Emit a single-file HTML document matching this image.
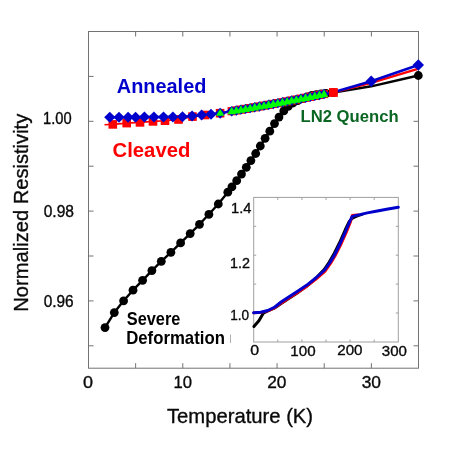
<!DOCTYPE html><html><head><meta charset="utf-8"><style>html,body{margin:0;padding:0;background:#fff}svg{display:block;will-change:transform;opacity:0.999}text{font-family:"Liberation Sans",sans-serif}</style></head><body>
<svg width="450" height="450" viewBox="0 0 450 450">
<rect width="450" height="450" fill="#fff"/>
<g stroke="#727272" stroke-width="1" fill="none">
<rect x="88.5" y="31.5" width="330.0" height="336.7"/>
<path d="M135.64 31.5v5M135.64 368.2v-5"/>
<path d="M182.79 31.5v5M182.79 368.2v-5"/>
<path d="M229.93 31.5v5M229.93 368.2v-5"/>
<path d="M277.07 31.5v5M277.07 368.2v-5"/>
<path d="M324.21 31.5v5M324.21 368.2v-5"/>
<path d="M371.36 31.5v5M371.36 368.2v-5"/>
<path d="M88.5 76.4h5M418.5 76.4h-5"/>
<path d="M88.5 121.3h5M418.5 121.3h-5"/>
<path d="M88.5 166.2h5M418.5 166.2h-5"/>
<path d="M88.5 211.1h5M418.5 211.1h-5"/>
<path d="M88.5 256h5M418.5 256h-5"/>
<path d="M88.5 300.9h5M418.5 300.9h-5"/>
<path d="M88.5 345.8h5M418.5 345.8h-5"/>
</g>
<polyline fill="none" stroke="#000" stroke-width="2.4" stroke-linejoin="round" points="105,327.6 114.3,312.6 123.6,300.8 133,290.2 142.6,280.3 151.9,270.6 161.3,261.3 170.9,252.3 180.6,242.9 190.2,233.6 199.5,224.3 208.9,214.3 218.3,204 227.8,192.2 231.9,186.9 236.7,180.7 241.5,174.1 246.3,167.3 250.9,160.6 255.7,153.5 260.3,146 265.1,138.3 269.8,131.2 274.5,123.6 279,117.1 283.8,110.9 288.2,106.4 293,103 297.7,100.6 302.4,98.6 307.1,96.8 311.8,95.4 316.5,94.6 321.2,94 326,93.4 333.4,92.6 371.2,86.3 418.3,75.5"/>
<circle cx="105" cy="327.6" r="4.4" fill="#000"/>
<circle cx="114.3" cy="312.6" r="4.4" fill="#000"/>
<circle cx="123.6" cy="300.8" r="4.4" fill="#000"/>
<circle cx="133" cy="290.2" r="4.4" fill="#000"/>
<circle cx="142.6" cy="280.3" r="4.4" fill="#000"/>
<circle cx="151.9" cy="270.6" r="4.4" fill="#000"/>
<circle cx="161.3" cy="261.3" r="4.4" fill="#000"/>
<circle cx="170.9" cy="252.3" r="4.4" fill="#000"/>
<circle cx="180.6" cy="242.9" r="4.4" fill="#000"/>
<circle cx="190.2" cy="233.6" r="4.4" fill="#000"/>
<circle cx="199.5" cy="224.3" r="4.4" fill="#000"/>
<circle cx="208.9" cy="214.3" r="4.4" fill="#000"/>
<circle cx="218.3" cy="204" r="4.4" fill="#000"/>
<circle cx="227.8" cy="192.2" r="4.4" fill="#000"/>
<circle cx="231.9" cy="186.9" r="4.4" fill="#000"/>
<circle cx="236.7" cy="180.7" r="4.4" fill="#000"/>
<circle cx="241.5" cy="174.1" r="4.4" fill="#000"/>
<circle cx="246.3" cy="167.3" r="4.4" fill="#000"/>
<circle cx="250.9" cy="160.6" r="4.4" fill="#000"/>
<circle cx="255.7" cy="153.5" r="4.4" fill="#000"/>
<circle cx="260.3" cy="146" r="4.4" fill="#000"/>
<circle cx="265.1" cy="138.3" r="4.4" fill="#000"/>
<circle cx="269.8" cy="131.2" r="4.4" fill="#000"/>
<circle cx="274.5" cy="123.6" r="4.4" fill="#000"/>
<circle cx="279" cy="117.1" r="4.4" fill="#000"/>
<circle cx="283.8" cy="110.9" r="4.4" fill="#000"/>
<circle cx="288.2" cy="106.4" r="4.4" fill="#000"/>
<circle cx="293" cy="103" r="4.4" fill="#000"/>
<circle cx="297.7" cy="100.6" r="4.4" fill="#000"/>
<circle cx="302.4" cy="98.6" r="4.4" fill="#000"/>
<circle cx="307.1" cy="96.8" r="4.4" fill="#000"/>
<circle cx="311.8" cy="95.4" r="4.4" fill="#000"/>
<circle cx="316.5" cy="94.6" r="4.4" fill="#000"/>
<circle cx="321.2" cy="94" r="4.4" fill="#000"/>
<circle cx="326" cy="93.4" r="4.4" fill="#000"/>
<circle cx="333.4" cy="92.6" r="4.4" fill="#000"/>
<circle cx="418.3" cy="75.5" r="4.4" fill="#000"/>
<polyline fill="none" stroke="#ff0000" stroke-width="1.6" points="104.5,124.8 112.8,124.4 126.7,123.1 140,122.4 153,121.4 165,120.7 178.5,119.5 192.5,116.6 205,115 220.1,113.2 231.7,111 236.31,110.24 240.93,109.46 245.54,108.68 250.16,107.89 254.77,107.08 259.39,106.27 264,105.44 268.62,104.61 273.24,103.76 277.85,102.91 282.46,102.04 287.08,101.17 291.69,100.28 296.31,99.39 300.93,98.48 305.54,97.56 310.15,96.64 314.77,95.7 319.38,94.75 324,93.8 333.4,92.5"/>
<polyline fill="none" stroke="#ff0000" stroke-width="2.2" points="333.4,92.5 371.2,82.9 417.8,68.9"/>
<polyline fill="none" stroke="#0000cd" stroke-width="2.6" points="109.8,117.2 119,117.2 128.1,117.2 135.6,117.2 144.4,117.1 153.9,117.1 163.5,117 172.9,116.9 182.5,116.7 192.1,116 201.6,115.1 211,114.2 220.2,113.3 231.7,111 236.31,110.24 240.93,109.46 245.54,108.68 250.16,107.89 254.77,107.08 259.39,106.27 264,105.44 268.62,104.61 273.24,103.76 277.85,102.91 282.46,102.04 287.08,101.17 291.69,100.28 296.31,99.39 300.93,98.48 305.54,97.56 310.15,96.64 314.77,95.7 319.38,94.75 324,93.8 333.4,92.3 371.2,81.2 418.3,65"/>
<rect x="108.5" y="120.1" width="8.6" height="8.6" fill="#ff0000"/>
<rect x="122.4" y="118.8" width="8.6" height="8.6" fill="#ff0000"/>
<rect x="135.7" y="118.1" width="8.6" height="8.6" fill="#ff0000"/>
<rect x="148.7" y="117.1" width="8.6" height="8.6" fill="#ff0000"/>
<rect x="160.7" y="116.4" width="8.6" height="8.6" fill="#ff0000"/>
<rect x="174.2" y="115.2" width="8.6" height="8.6" fill="#ff0000"/>
<rect x="188.2" y="112.3" width="8.6" height="8.6" fill="#ff0000"/>
<rect x="200.7" y="110.7" width="8.6" height="8.6" fill="#ff0000"/>
<rect x="215.8" y="108.9" width="8.6" height="8.6" fill="#ff0000"/>
<path d="M104.2 117.2L109.8 111.7L115.4 117.2L109.8 122.7Z" fill="#0000cd"/>
<path d="M113.4 117.2L119 111.7L124.6 117.2L119 122.7Z" fill="#0000cd"/>
<path d="M122.5 117.2L128.1 111.7L133.7 117.2L128.1 122.7Z" fill="#0000cd"/>
<path d="M130 117.2L135.6 111.7L141.2 117.2L135.6 122.7Z" fill="#0000cd"/>
<path d="M138.8 117.1L144.4 111.6L150 117.1L144.4 122.6Z" fill="#0000cd"/>
<path d="M148.3 117.1L153.9 111.6L159.5 117.1L153.9 122.6Z" fill="#0000cd"/>
<path d="M157.9 117L163.5 111.5L169.1 117L163.5 122.5Z" fill="#0000cd"/>
<path d="M167.3 116.9L172.9 111.4L178.5 116.9L172.9 122.4Z" fill="#0000cd"/>
<path d="M176.9 116.7L182.5 111.2L188.1 116.7L182.5 122.2Z" fill="#0000cd"/>
<path d="M186.5 116L192.1 110.5L197.7 116L192.1 121.5Z" fill="#0000cd"/>
<path d="M196 115.1L201.6 109.6L207.2 115.1L201.6 120.6Z" fill="#0000cd"/>
<path d="M205.4 114.2L211 108.7L216.6 114.2L211 119.7Z" fill="#0000cd"/>
<path d="M365.5 81.2L371.2 75.5L376.9 81.2L371.2 86.9Z" fill="#0000cd"/>
<path d="M412.6 65L418.3 59.3L424 65L418.3 70.7Z" fill="#0000cd"/>
<rect x="227.6" y="107.1" width="8.2" height="8.2" fill="#ff0000"/>
<rect x="232.22" y="106.34" width="8.2" height="8.2" fill="#ff0000"/>
<rect x="236.83" y="105.56" width="8.2" height="8.2" fill="#ff0000"/>
<rect x="241.44" y="104.78" width="8.2" height="8.2" fill="#ff0000"/>
<rect x="246.06" y="103.99" width="8.2" height="8.2" fill="#ff0000"/>
<rect x="250.67" y="103.18" width="8.2" height="8.2" fill="#ff0000"/>
<rect x="255.29" y="102.37" width="8.2" height="8.2" fill="#ff0000"/>
<rect x="259.9" y="101.54" width="8.2" height="8.2" fill="#ff0000"/>
<rect x="264.52" y="100.71" width="8.2" height="8.2" fill="#ff0000"/>
<rect x="269.13" y="99.86" width="8.2" height="8.2" fill="#ff0000"/>
<rect x="273.75" y="99.01" width="8.2" height="8.2" fill="#ff0000"/>
<rect x="278.36" y="98.14" width="8.2" height="8.2" fill="#ff0000"/>
<rect x="282.98" y="97.27" width="8.2" height="8.2" fill="#ff0000"/>
<rect x="287.59" y="96.38" width="8.2" height="8.2" fill="#ff0000"/>
<rect x="292.21" y="95.49" width="8.2" height="8.2" fill="#ff0000"/>
<rect x="296.82" y="94.58" width="8.2" height="8.2" fill="#ff0000"/>
<rect x="301.44" y="93.66" width="8.2" height="8.2" fill="#ff0000"/>
<rect x="306.05" y="92.74" width="8.2" height="8.2" fill="#ff0000"/>
<rect x="310.67" y="91.8" width="8.2" height="8.2" fill="#ff0000"/>
<rect x="315.28" y="90.85" width="8.2" height="8.2" fill="#ff0000"/>
<rect x="319.9" y="89.9" width="8.2" height="8.2" fill="#ff0000"/>
<path d="M214.7 113.3L220.2 107.8L225.7 113.3L220.2 118.8Z" fill="#0000cd"/>
<path d="M226.5 111.2L231.7 106L236.9 111.2L231.7 116.4Z" fill="#0000cd"/>
<path d="M231.12 110.44L236.31 105.24L241.51 110.44L236.31 115.64Z" fill="#0000cd"/>
<path d="M235.73 109.66L240.93 104.46L246.13 109.66L240.93 114.86Z" fill="#0000cd"/>
<path d="M240.34 108.88L245.54 103.68L250.74 108.88L245.54 114.08Z" fill="#0000cd"/>
<path d="M244.96 108.09L250.16 102.89L255.36 108.09L250.16 113.29Z" fill="#0000cd"/>
<path d="M249.57 107.28L254.77 102.08L259.97 107.28L254.77 112.48Z" fill="#0000cd"/>
<path d="M254.19 106.47L259.39 101.27L264.59 106.47L259.39 111.67Z" fill="#0000cd"/>
<path d="M258.81 105.64L264 100.44L269.2 105.64L264 110.84Z" fill="#0000cd"/>
<path d="M263.42 104.81L268.62 99.61L273.82 104.81L268.62 110.01Z" fill="#0000cd"/>
<path d="M268.04 103.96L273.24 98.76L278.44 103.96L273.24 109.16Z" fill="#0000cd"/>
<path d="M272.65 103.11L277.85 97.91L283.05 103.11L277.85 108.31Z" fill="#0000cd"/>
<path d="M277.26 102.24L282.46 97.04L287.66 102.24L282.46 107.44Z" fill="#0000cd"/>
<path d="M281.88 101.37L287.08 96.17L292.28 101.37L287.08 106.57Z" fill="#0000cd"/>
<path d="M286.5 100.48L291.69 95.28L296.89 100.48L291.69 105.68Z" fill="#0000cd"/>
<path d="M291.11 99.59L296.31 94.39L301.51 99.59L296.31 104.79Z" fill="#0000cd"/>
<path d="M295.73 98.68L300.93 93.48L306.12 98.68L300.93 103.88Z" fill="#0000cd"/>
<path d="M300.34 97.76L305.54 92.56L310.74 97.76L305.54 102.96Z" fill="#0000cd"/>
<path d="M304.95 96.84L310.15 91.64L315.35 96.84L310.15 102.04Z" fill="#0000cd"/>
<path d="M309.57 95.9L314.77 90.7L319.97 95.9L314.77 101.1Z" fill="#0000cd"/>
<path d="M314.19 94.95L319.38 89.75L324.58 94.95L319.38 100.15Z" fill="#0000cd"/>
<path d="M318.8 94L324 88.8L329.2 94L324 99.2Z" fill="#0000cd"/>
<path d="M216 115.82L220.2 109.02L224.4 115.82Z" fill="#00ff00"/>
<path d="M227.4 114.34L231.7 106.74L236 114.34Z" fill="#00ff00"/>
<path d="M232.01 113.58L236.31 105.98L240.62 113.58Z" fill="#00ff00"/>
<path d="M236.63 112.8L240.93 105.2L245.23 112.8Z" fill="#00ff00"/>
<path d="M241.24 112.02L245.54 104.42L249.84 112.02Z" fill="#00ff00"/>
<path d="M245.86 111.23L250.16 103.63L254.46 111.23Z" fill="#00ff00"/>
<path d="M250.47 110.42L254.77 102.82L259.07 110.42Z" fill="#00ff00"/>
<path d="M255.09 109.61L259.39 102.01L263.69 109.61Z" fill="#00ff00"/>
<path d="M259.7 108.78L264 101.18L268.31 108.78Z" fill="#00ff00"/>
<path d="M264.32 107.95L268.62 100.35L272.92 107.95Z" fill="#00ff00"/>
<path d="M268.94 107.1L273.24 99.5L277.54 107.1Z" fill="#00ff00"/>
<path d="M273.55 106.25L277.85 98.65L282.15 106.25Z" fill="#00ff00"/>
<path d="M278.16 105.38L282.46 97.78L286.76 105.38Z" fill="#00ff00"/>
<path d="M282.78 104.51L287.08 96.91L291.38 104.51Z" fill="#00ff00"/>
<path d="M287.39 103.62L291.69 96.02L296 103.62Z" fill="#00ff00"/>
<path d="M292.01 102.73L296.31 95.13L300.61 102.73Z" fill="#00ff00"/>
<path d="M296.62 101.82L300.93 94.22L305.23 101.82Z" fill="#00ff00"/>
<path d="M301.24 100.9L305.54 93.3L309.84 100.9Z" fill="#00ff00"/>
<path d="M305.85 99.98L310.15 92.38L314.45 99.98Z" fill="#00ff00"/>
<path d="M310.47 99.04L314.77 91.44L319.07 99.04Z" fill="#00ff00"/>
<path d="M315.08 98.09L319.38 90.49L323.69 98.09Z" fill="#00ff00"/>
<path d="M319.7 97.14L324 89.54L328.3 97.14Z" fill="#00ff00"/>
<rect x="329" y="88.1" width="8.8" height="8.8" fill="#ff0000"/>
<rect x="231" y="197" width="179" height="161" fill="#fff"/>
<path d="M230.5 334.5v8.5" stroke="#b0b0b0" stroke-width="1"/>
<g stroke="#a0a0a0" stroke-width="1" fill="none">
<rect x="253.7" y="197.4" width="144.6" height="144.6"/>
<path d="M277.8 197.4v2.5M277.8 342.0v-2.5"/>
<path d="M301.9 197.4v2.5M301.9 342.0v-2.5"/>
<path d="M326 197.4v2.5M326 342.0v-2.5"/>
<path d="M350.1 197.4v2.5M350.1 342.0v-2.5"/>
<path d="M374.2 197.4v2.5M374.2 342.0v-2.5"/>
<path d="M253.7 226.3h2.5M398.3 226.3h-2.5"/>
<path d="M253.7 255.2h2.5M398.3 255.2h-2.5"/>
<path d="M253.7 284.1h2.5M398.3 284.1h-2.5"/>
<path d="M253.7 313h2.5M398.3 313h-2.5"/>
</g>
<polyline fill="none" stroke="#000" stroke-width="3" stroke-linejoin="round" stroke-linecap="round" points="253.9,326.5 258.9,320.7 263.3,313.2 267.8,310.9 274.9,307.8 281.1,303.5 289.1,298.3 298,292.4 306.9,286 315.8,278.4 324.2,269.5 329.3,262 334.2,253.5 339.2,243.5 345.2,230 349.3,221.5 352,218.5 355,217 358,215.6 362,214.4"/>
<polyline fill="none" stroke="#ff0000" stroke-width="2.6" stroke-linejoin="round" stroke-linecap="round" points="253.6,312.9 260.7,312.5 267.8,311 274.9,307.8 281.1,303.3 289.1,298 298,292.3 306.9,286.3 315.8,279.4 325,271.5 330.6,263.6 335.7,255 340.8,245 346.8,231.5 350.6,222 352.2,215.2 354,215 358,214.9"/>
<polyline fill="none" stroke="#0000cd" stroke-width="3" stroke-linejoin="round" stroke-linecap="round" points="253.6,312.7 260.7,312.3 267.8,310.5 274.9,307 281.1,302 289.1,296.7 298,291 306.9,285.1 315.8,278 324.7,270 330,262.5 335,254 340,244 346,230.5 350,221 352,216.6 355,215.6 360,214.6 367.3,212.9 376,211.2 388,209 398.3,207.3"/>
<text transform="translate(43,124.1) scale(0.9291,1)" font-size="15.8" stroke="#0a0a0a" stroke-width="0.35" fill="#0a0a0a">1.00</text>
<text transform="translate(43.68,216.8) scale(0.9855,1)" font-size="15.8" stroke="#0a0a0a" stroke-width="0.35" fill="#0a0a0a">0.98</text>
<text transform="translate(43.68,306.8) scale(0.9753,1)" font-size="15.8" stroke="#0a0a0a" stroke-width="0.35" fill="#0a0a0a">0.96</text>
<text transform="translate(82.98,388) scale(1.0721,1)" font-size="16.8" stroke="#0a0a0a" stroke-width="0.35" fill="#0a0a0a">0</text>
<text transform="translate(173.45,388) scale(0.9906,1)" font-size="16.8" stroke="#0a0a0a" stroke-width="0.35" fill="#0a0a0a">10</text>
<text transform="translate(267.13,388) scale(1.0304,1)" font-size="16.8" stroke="#0a0a0a" stroke-width="0.35" fill="#0a0a0a">20</text>
<text transform="translate(361.65,388) scale(1.0352,1)" font-size="16.8" stroke="#0a0a0a" stroke-width="0.35" fill="#0a0a0a">30</text>
<text transform="translate(231.1,212.7) scale(1.0124,1)" font-size="14.5" stroke="#0a0a0a" stroke-width="0.35" fill="#0a0a0a">1.4</text>
<text transform="translate(230.12,268.2) scale(0.9922,1)" font-size="14.5" stroke="#0a0a0a" stroke-width="0.35" fill="#0a0a0a">1.2</text>
<text transform="translate(230.18,320.4) scale(0.9393,1)" font-size="14.5" stroke="#0a0a0a" stroke-width="0.35" fill="#0a0a0a">1.0</text>
<text transform="translate(250.36,354.8) scale(1.0977,1)" font-size="14.5" stroke="#0a0a0a" stroke-width="0.35" fill="#0a0a0a">0</text>
<text transform="translate(290.26,356.4) scale(1.0467,1)" font-size="14.5" stroke="#0a0a0a" stroke-width="0.35" fill="#0a0a0a">100</text>
<text transform="translate(337.24,354.8) scale(1.0476,1)" font-size="14.5" stroke="#0a0a0a" stroke-width="0.35" fill="#0a0a0a">200</text>
<text transform="translate(381.83,356.4) scale(1.0394,1)" font-size="14.5" stroke="#0a0a0a" stroke-width="0.35" fill="#0a0a0a">300</text>
<text transform="translate(166.94,423.2) scale(0.9831,1)" font-size="20.6" stroke="#0a0a0a" stroke-width="0.35" fill="#0a0a0a">Temperature (K)</text>
<text transform="translate(28,311.66) rotate(-90) scale(0.9587,1)" font-size="21" stroke="#0a0a0a" stroke-width="0.35" fill="#0a0a0a">Normalized Resistivity</text>
<text transform="translate(116.8,92.8) scale(0.9856,1)" font-size="20.2" font-weight="bold" fill="#0000cd">Annealed</text>
<text transform="translate(112.59,157) scale(0.9935,1)" font-size="20.4" font-weight="bold" fill="#ff0000">Cleaved</text>
<text transform="translate(300.47,122.4) scale(0.9927,1)" font-size="16.8" font-weight="bold" fill="#0b6623">LN2 Quench</text>
<text transform="translate(126.81,324.6) scale(0.9289,1)" font-size="17.6" font-weight="bold" fill="#000">Severe</text>
<text transform="translate(126.17,343.6) scale(0.9529,1)" font-size="17.6" font-weight="bold" fill="#000">Deformation</text>
</svg></body></html>
